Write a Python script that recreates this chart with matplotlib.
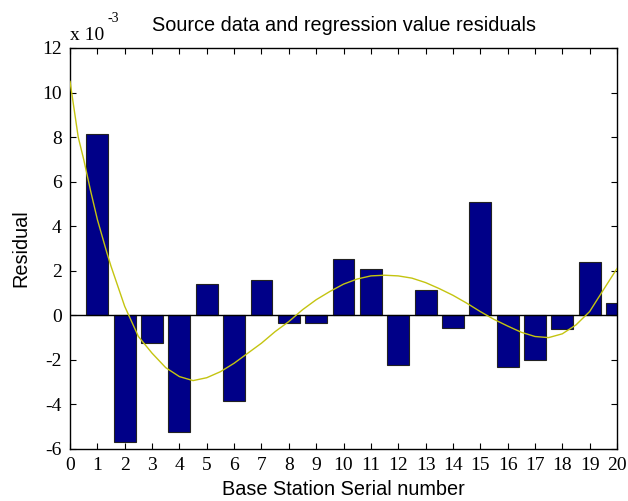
import matplotlib
matplotlib.use("Agg")
import matplotlib.pyplot as plt
import numpy as np

plt.rcParams["axes.unicode_minus"] = False

# residuals per base station (x 1e-3)
stations = list(range(1, 21))
residuals = [8.15, -5.7, -1.25, -5.25, 1.4, -3.85, 1.6, -0.35, -0.35, 2.55,
             2.1, -2.25, 1.15, -0.55, 5.1, -2.33, -2.0, -0.6, 2.4, 0.55]

# fitted regression curve, sampled every half station
curve_x = [0, 0.3, 0.5, 0.75, 1, 1.35, 1.5, 2, 2.5, 3, 3.5, 4, 4.5, 5, 5.5, 6, 6.5,
           7, 7.5, 8, 8.5, 9, 9.5, 10, 10.5, 11, 11.5, 12, 12.5, 13, 13.5, 14,
           14.5, 15, 15.5, 16, 16.5, 17, 17.5, 18, 18.5, 19, 19.5, 20]
curve_y = [10.5, 8.0, 7.0, 5.6, 4.3, 2.8, 2.2, 0.4, -0.95, -1.7, -2.35, -2.75,
           -2.93, -2.8, -2.53, -2.15, -1.7, -1.25, -0.73, -0.28, 0.25, 0.7,
           1.07, 1.4, 1.63, 1.77, 1.8, 1.77, 1.67, 1.47, 1.2, 0.9, 0.55, 0.17,
           -0.18, -0.48, -0.76, -0.95, -1.0, -0.83, -0.43, 0.17, 1.14, 2.1]

serif = ["Liberation Serif", "DejaVu Serif"]
sans = ["Liberation Sans", "DejaVu Sans"]

fig = plt.figure(figsize=(6.28, 5.01), dpi=100)
ax = fig.add_axes([0.1115, 0.1038, 0.871, 0.8004])

ax.bar(stations, residuals, width=0.8, color="#000088", edgecolor="#222222",
       linewidth=0.8, zorder=2)
ax.axhline(0, color="black", linewidth=1.0, zorder=3)
ax.plot(curve_x, curve_y, color="#c4c410", linewidth=1.0, zorder=4)

ax.set_xlim(0, 20)
ax.set_ylim(-6, 12)
ax.set_xticks(range(0, 21))
ax.set_yticks(range(-6, 13, 2))
ax.tick_params(direction="in", top=True, right=True, length=4, width=0.8,
               labelsize=14, pad=6)
for lab in ax.get_xticklabels() + ax.get_yticklabels():
    lab.set_family(serif)
for s in ax.spines.values():
    s.set_linewidth(1.0)

ax.set_title("Source data and regression value residuals", family=sans,
             fontsize=14.3, pad=12)
ax.set_xlabel("Base Station Serial number", family=sans, fontsize=14.3, labelpad=4)
ax.set_ylabel("Residual", family=sans, fontsize=14.3, labelpad=8)

fig.text(70 / 628, 1 - 40 / 501, "x 10", family=serif, fontsize=14,
         ha="left", va="baseline")
fig.text(107 / 628, 1 - 22 / 501, "-3", family=serif, fontsize=10,
         ha="left", va="baseline")

fig.savefig("out.png", dpi=100)
